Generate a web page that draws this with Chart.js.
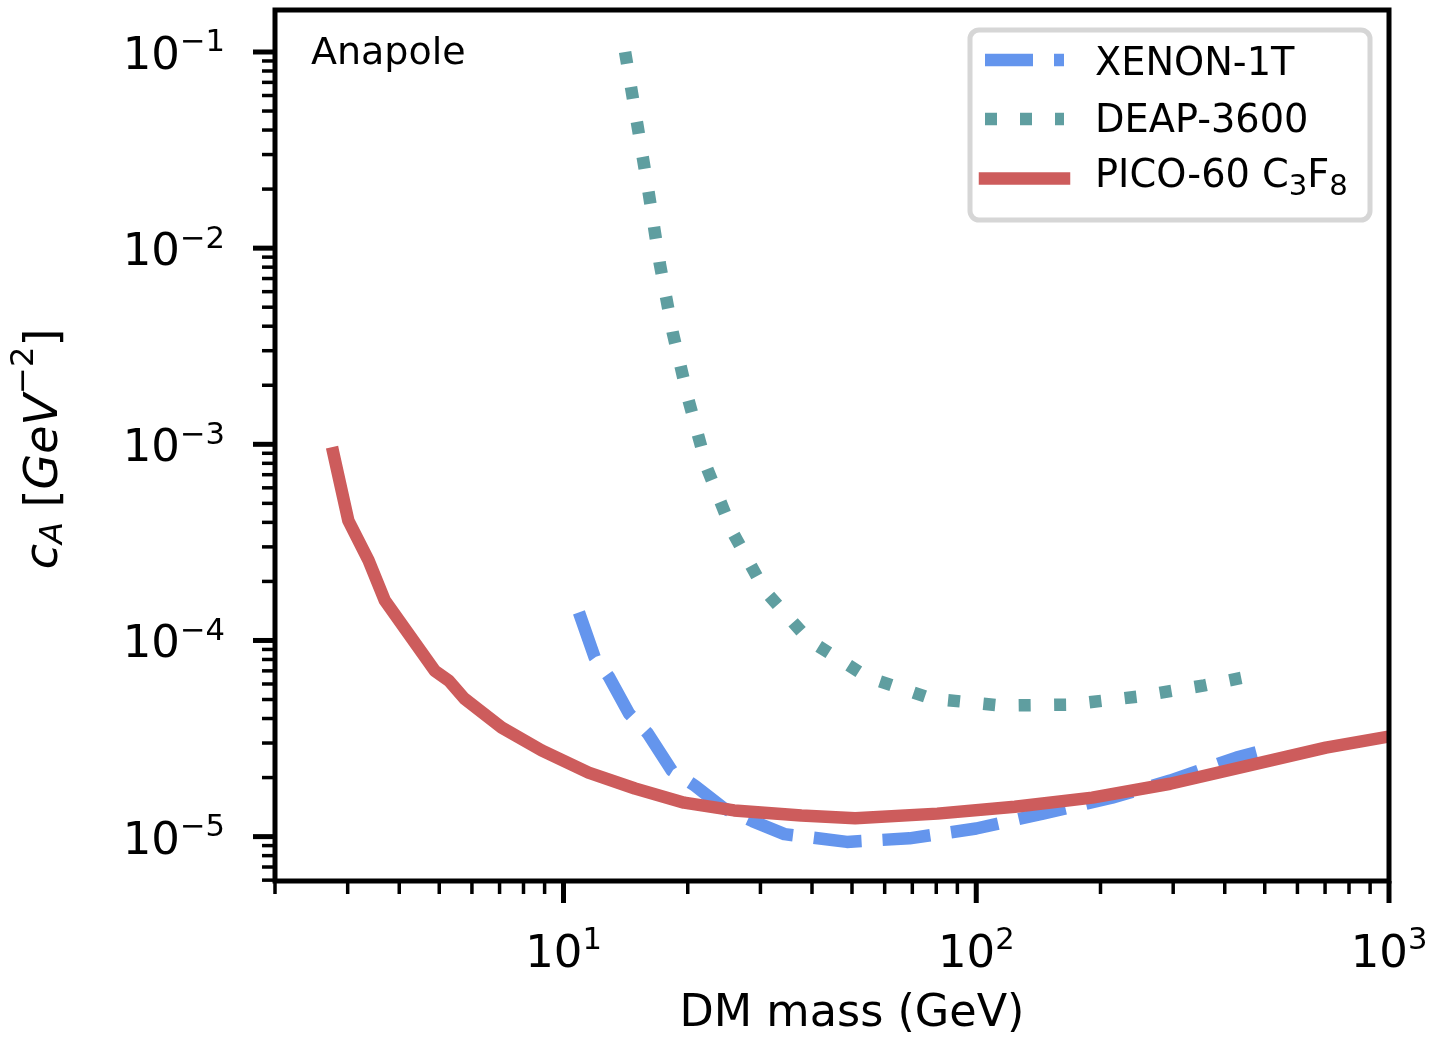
<!DOCTYPE html>
<html>
<head>
<meta charset="utf-8">
<script src="https://cdn.jsdelivr.net/npm/chart.js@4.4.0/dist/chart.umd.min.js"></script>
<style>
  html, body { margin: 0; padding: 0; background: #fff; }
  #wrap { width: 1436px; height: 1037px; }
</style>
</head>
<body>
<div id="wrap"><canvas id="limitChart" width="1436" height="1037"></canvas></div>
<script>
// Anapole limits
const xenonMass  = [10.9, 11.9, 12.9, 14.4, 16.0, 18.3, 20.8, 24.4, 28.7, 34.3, 48.6, 68.9, 100, 145, 213, 295, 427, 477];
const xenonLimit = [1.39e-4, 8.2e-5, 6.5e-5, 4.25e-5, 3.36e-5, 2.17e-5, 1.82e-5, 1.4e-5, 1.2e-5, 1.03e-5, 9.4e-6, 9.8e-6, 1.1e-5, 1.31e-5, 1.58e-5, 1.93e-5, 2.53e-5, 2.69e-5];

const deapMass  = [14.1, 15.1, 16.1, 17.1, 18.4, 20.1, 22.3, 25.7, 30.7, 39.4, 54.5, 77.8, 115, 169, 245, 357, 448];
const deapLimit = [0.1, 0.0425, 0.0189, 8.4e-3, 3.7e-3, 1.67e-3, 7.5e-4, 3.56e-4, 1.8e-4, 1.0e-4, 6.5e-5, 5.06e-5, 4.66e-5, 4.71e-5, 5.17e-5, 5.9e-5, 6.5e-5];

const picoMass  = [2.77, 3.01, 3.37, 3.69, 4.88, 5.27, 5.75, 7.08, 8.85, 11.5, 14.9, 19.6, 25.9, 37.7, 50.9, 80.5, 124, 191, 295, 456, 703, 1000];
const picoLimit = [9.0e-4, 4.09e-4, 2.56e-4, 1.60e-4, 7.0e-5, 6.25e-5, 5.06e-5, 3.6e-5, 2.75e-5, 2.12e-5, 1.76e-5, 1.49e-5, 1.36e-5, 1.28e-5, 1.24e-5, 1.31e-5, 1.42e-5, 1.58e-5, 1.86e-5, 2.30e-5, 2.84e-5, 3.24e-5];

const seriesNames = ['XENON-1T', 'DEAP-3600', 'PICO-60 C_3F_8'];

// tick labels: 10^exp
const xTickValues = [10, 100, 1000];
const xTickExps   = ['1', '2', '3'];
const yTickValues = [1e-1, 1e-2, 1e-3, 1e-4, 1e-5];
const yTickExps   = ['\u22121', '\u22122', '\u22123', '\u22124', '\u22125'];

const xMin = 2, xMax = 1000;
const yMin = 5.94e-6, yMax = 0.1637;

const FONT = '"DejaVu Sans"';

function toPoints(xs, ys) {
    return xs.map((x, i) => ({ x: x, y: ys[i] }));
}

// draw a list of text pieces left-aligned on a baseline
function drawSegs(ctx, segs, x, y, size, measureOnly) {
    let cx = x;
    segs.forEach(s => {
        const fs = size * (s.scale || 1);
        ctx.font = (s.italic ? 'italic ' : '') + fs + 'px ' + FONT;
        if (!measureOnly) ctx.fillText(s.text, cx, y + (s.dy || 0) * size);
        cx += ctx.measureText(s.text).width + (s.gap || 0) * size;
    });
    return cx - x;
}

// turns "PICO-60 C_3F_8" into pieces with subscripts
function subSegs(str) {
    const out = [];
    let buf = '';
    for (let i = 0; i < str.length; i++) {
        if (str[i] === '_') {
            if (buf) out.push({ text: buf });
            buf = '';
            out.push({ text: str[i + 1], scale: 0.76, dy: 0.21 });
            i++;
        } else {
            buf += str[i];
        }
    }
    if (buf) out.push({ text: buf });
    return out;
}

function powSegs(exp) {
    return [{ text: '10' }, { text: exp, scale: 0.68, dy: -0.39 }];
}

const axesPlugin = {
    id: 'axesPlugin',
    afterDraw(chart) {
        const ctx = chart.ctx;
        const a = chart.chartArea;
        const xs = chart.scales.x, ys = chart.scales.y;
        ctx.save();
        ctx.fillStyle = '#000';
        ctx.strokeStyle = '#000';
        ctx.lineCap = 'butt';

        // ticks (log decades with minor ticks)
        const logTicks = (min, max) => {
            const out = [];
            for (let d = Math.floor(Math.log10(min)); d <= Math.ceil(Math.log10(max)); d++) {
                for (let k = 1; k <= 9; k++) {
                    const v = k * Math.pow(10, d);
                    if (v >= min * 0.999 && v <= max * 1.001) out.push({ v: v, major: k === 1 });
                }
            }
            return out;
        };
        logTicks(xMin, xMax).forEach(t => {
            const px = xs.getPixelForValue(t.v);
            ctx.lineWidth = t.major ? 5 : 3.5;
            ctx.beginPath();
            ctx.moveTo(px, a.bottom);
            ctx.lineTo(px, a.bottom + (t.major ? 22 : 13));
            ctx.stroke();
        });
        logTicks(yMin, yMax).forEach(t => {
            const py = ys.getPixelForValue(t.v);
            ctx.lineWidth = t.major ? 5 : 3.5;
            ctx.beginPath();
            ctx.moveTo(a.left, py);
            ctx.lineTo(a.left - (t.major ? 22 : 13), py);
            ctx.stroke();
        });

        // frame
        ctx.lineWidth = 5;
        ctx.strokeRect(a.left, a.top, a.right - a.left, a.bottom - a.top);

        // tick labels
        ctx.textAlign = 'left';
        ctx.textBaseline = 'alphabetic';
        const tickSize = 45;
        xTickValues.forEach((v, i) => {
            const segs = powSegs(xTickExps[i]);
            const w = drawSegs(ctx, segs, 0, 0, tickSize, true);
            drawSegs(ctx, segs, xs.getPixelForValue(v) - w / 2, a.bottom + 86, tickSize);
        });
        yTickValues.forEach((v, i) => {
            const segs = powSegs(yTickExps[i]);
            const w = drawSegs(ctx, segs, 0, 0, tickSize, true);
            drawSegs(ctx, segs, 225 - w, ys.getPixelForValue(v) + 17, tickSize);
        });

        // axis titles
        ctx.font = '44.5px ' + FONT;
        ctx.textAlign = 'center';
        ctx.fillText('DM mass (GeV)', 852, 1026);

        ctx.textAlign = 'left';
        const yTitle = [
            { text: 'c', italic: true },
            { text: 'A', italic: true, scale: 0.7, dy: 0.11 },
            { text: ' [' },
            { text: 'GeV', italic: true },
            { text: '\u22122', scale: 0.7, dy: -0.52 },
            { text: ']' }
        ];
        const tw = drawSegs(ctx, yTitle, 0, 0, 46, true);
        ctx.save();
        ctx.translate(57, 449);
        ctx.rotate(-Math.PI / 2);
        drawSegs(ctx, yTitle, -tw / 2, 0, 46);
        ctx.restore();

        // panel label
        ctx.font = '38px ' + FONT;
        ctx.fillText('Anapole', 311, 64);

        // legend
        ctx.beginPath();
        ctx.roundRect(970, 30, 400, 190, 9);
        ctx.fillStyle = 'rgba(255,255,255,0.85)';
        ctx.fill();
        ctx.lineWidth = 5;
        ctx.strokeStyle = '#d6d6d6';
        ctx.stroke();

        const rows = [
            { y: 60, base: 75 },
            { y: 119, base: 132 },
            { y: 178.5, base: 187 }
        ];
        const dsets = chart.data.datasets;
        rows.forEach((r, i) => {
            const ds = dsets[i];
            ctx.strokeStyle = ds.borderColor;
            ctx.lineWidth = ds.borderWidth;
            ctx.lineCap = ds.borderCapStyle;
            ctx.setLineDash(ds.legendDash || ds.borderDash || []);
            ctx.beginPath();
            ctx.moveTo(985, r.y);
            ctx.lineTo(1064, r.y);
            ctx.stroke();
            ctx.setLineDash([]);
            ctx.fillStyle = '#000';
            drawSegs(ctx, subSegs(seriesNames[i]), 1095, r.base, 38.3);
        });
        ctx.restore();
    }
};

document.addEventListener('DOMContentLoaded', function() {
    const ctx = document.getElementById('limitChart').getContext('2d');
    new Chart(ctx, {
        type: 'line',
        data: {
            datasets: [
                {
                    label: seriesNames[0],
                    data: toPoints(xenonMass, xenonLimit),
                    borderColor: '#6495ED',
                    borderWidth: 12.5,
                    borderDash: [48, 21],
                    borderCapStyle: 'butt',
                    borderJoinStyle: 'round',
                    order: 3
                },
                {
                    label: seriesNames[1],
                    data: toPoints(deapMass, deapLimit),
                    borderColor: '#5F9EA0',
                    borderWidth: 12.5,
                    borderDash: [12, 23.45],
                    legendDash: [12, 23],
                    borderCapStyle: 'butt',
                    borderJoinStyle: 'round',
                    order: 2
                },
                {
                    label: seriesNames[2],
                    data: toPoints(picoMass, picoLimit),
                    borderColor: '#CD5C5C',
                    borderWidth: 12.5,
                    borderCapStyle: 'square',
                    borderJoinStyle: 'round',
                    order: 1
                }
            ]
        },
        options: {
            responsive: false,
            devicePixelRatio: 1,
            animation: false,
            clip: 0,
            layout: {
                padding: { left: 275, top: 10, right: 47, bottom: 156 }
            },
            elements: {
                point: { radius: 0, hoverRadius: 0 },
                line: { tension: 0, fill: false }
            },
            scales: {
                x: { type: 'logarithmic', min: xMin, max: xMax, display: false },
                y: { type: 'logarithmic', min: yMin, max: yMax, display: false }
            },
            plugins: {
                legend: { display: false },
                tooltip: { enabled: false }
            }
        },
        plugins: [axesPlugin]
    });
});
</script>
</body>
</html>
